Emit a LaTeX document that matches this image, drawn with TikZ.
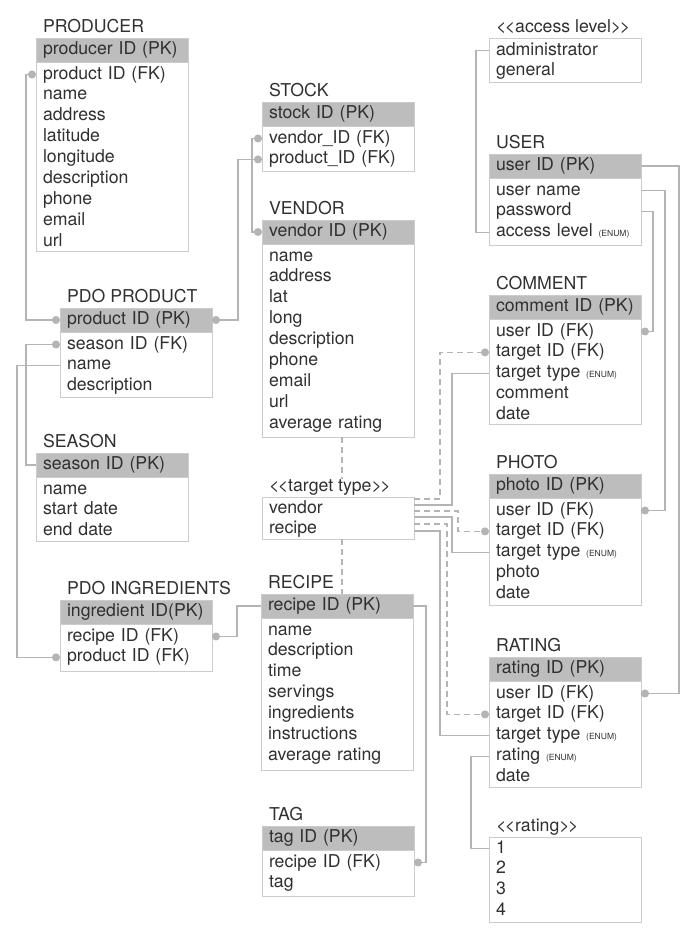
\documentclass[tikz,border=0pt]{standalone}
\usepackage{fontspec}
\newfontfamily\erfont{TeX Gyre Heros}
\usetikzlibrary{calc, arrows.meta}

\definecolor{headgray}{HTML}{BDBDBD}
\definecolor{boxgray}{HTML}{CCCCCC}
\definecolor{linegray}{HTML}{B4B4B4}
\definecolor{ink}{HTML}{303030}

\newcommand{\enumtag}{{\fontsize{8.5pt}{10pt}\selectfont(ENUM)}}
\newcommand{\stereo}[1]{<\kern-1.5pt<#1>\kern-1.5pt>}

\begin{document}
\begin{tikzpicture}[x=1pt, y=-1pt,
    every node/.style={font=\erfont\fontsize{17.7pt}{21pt}\selectfont, text=ink},
    tabname/.style={anchor=base west, inner sep=0pt, outer sep=0pt},
    keyrow/.style={anchor=north west, fill=headgray, draw=boxgray, text width=138pt,
        inner xsep=7pt, inner ysep=0pt, outer sep=0pt, minimum height=24pt,
        text height=12.5pt, text depth=3.5pt},
    tablebox/.style={anchor=north west, draw=boxgray, minimum width=152pt,
        inner sep=0pt, outer sep=0pt},
    field/.style={anchor=west, text width=138pt, inner xsep=7pt, inner ysep=0pt,
        outer sep=0pt, minimum height=20.9pt, text height=12.5pt, text depth=3.5pt},
    rel/.style={draw=linegray, line width=1.1pt},
    relopt/.style={rel, dash pattern=on 6pt off 4pt},
    fk/.tip={Circle[length=8pt]}
]
\useasboundingbox (0,0) rectangle (696,938);

% producer
\node[keyrow] (producer) at (36,38) {producer ID (PK)};
\node[tabname] (producerT) at ([xshift=7pt,yshift=6pt]producer.north west) {PRODUCER};
\node[tablebox, minimum height=189pt] (producerB) at (producer.south west) {};
\foreach \f [count=\i] in {product ID (FK), name, address, latitude, longitude, description, phone, email, url}
    \node[field] (producer-\i) at ($(producerB.north west)+(0,{20.9*\i-8.4})$) {\f};

% stock
\node[keyrow] (stock) at (262,102) {stock ID (PK)};
\node[tabname] (stockT) at ([xshift=7pt,yshift=6pt]stock.north west) {STOCK};
\node[tablebox, minimum height=45pt] (stockB) at (stock.south west) {};
\foreach \f [count=\i] in {vendor\_ID (FK), product\_ID (FK)}
    \node[field] (stock-\i) at ($(stockB.north west)+(0,{20.9*\i-8.4})$) {\f};

% vendor
\node[keyrow] (vendor) at (262,220) {vendor ID (PK)};
\node[tabname] (vendorT) at ([xshift=7pt,yshift=6pt]vendor.north west) {VENDOR};
\node[tablebox, minimum height=193pt] (vendorB) at (vendor.south west) {};
\foreach \f [count=\i] in {name, address, lat, long, description, phone, email, url, average rating}
    \node[field] (vendor-\i) at ($(vendorB.north west)+(0,{20.9*\i-8.4})$) {\f};

% pdo product
\node[keyrow] (product) at (60,308) {product ID (PK)};
\node[tabname] (productT) at ([xshift=7pt,yshift=6pt]product.north west) {PDO PRODUCT};
\node[tablebox, minimum height=65pt] (productB) at (product.south west) {};
\foreach \f [count=\i] in {season ID (FK), name, description}
    \node[field] (product-\i) at ($(productB.north west)+(0,{20.9*\i-8.4})$) {\f};

% season
\node[keyrow] (season) at (36,453) {season ID (PK)};
\node[tabname] (seasonT) at ([xshift=7pt,yshift=6pt]season.north west) {SEASON};
\node[tablebox, minimum height=64pt] (seasonB) at (season.south west) {};
\foreach \f [count=\i] in {name, start date, end date}
    \node[field] (season-\i) at ($(seasonB.north west)+(0,{20.9*\i-8.4})$) {\f};

% pdo ingredients
\node[keyrow] (ingredient) at (60,600) {ingredient ID(PK)};
\node[tabname] (ingredientT) at ([xshift=7pt,yshift=6pt]ingredient.north west) {PDO INGREDIENTS};
\node[tablebox, minimum height=47pt] (ingredientB) at (ingredient.south west) {};
\foreach \f [count=\i] in {recipe ID (FK), product ID (FK)}
    \node[field] (ingredient-\i) at ($(ingredientB.north west)+(0,{20.9*\i-8.4})$) {\f};

% recipe
\node[keyrow] (recipe) at (261,594) {recipe ID (PK)};
\node[tabname] (recipeT) at ([xshift=7pt,yshift=6pt]recipe.north west) {RECIPE};
\node[tablebox, minimum height=152pt] (recipeB) at (recipe.south west) {};
\foreach \f [count=\i] in {name, description, time, servings, ingredients, instructions, average rating}
    \node[field] (recipe-\i) at ($(recipeB.north west)+(0,{20.9*\i-8.4})$) {\f};

% tag
\node[keyrow] (tag) at (262,826) {tag ID (PK)};
\node[tabname] (tagT) at ([xshift=7pt,yshift=6pt]tag.north west) {TAG};
\node[tablebox, minimum height=46pt] (tagB) at (tag.south west) {};
\foreach \f [count=\i] in {recipe ID (FK), tag}
    \node[field] (tag-\i) at ($(tagB.north west)+(0,{20.9*\i-8.4})$) {\f};

% target type
\node[tablebox, minimum height=42pt] (targetB) at (262,497) {};
\node[tabname] (targetT) at ([xshift=7pt,yshift=6pt]targetB.north west) {\stereo{target type}};
\foreach \f [count=\i] in {vendor, recipe}
    \node[field] (target-\i) at ($(targetB.north west)+(0,{20.9*\i-9.4})$) {\f};

% access level
\node[tablebox, minimum height=44pt] (accessB) at (489,38) {};
\node[tabname] (accessT) at ([xshift=7pt,yshift=6pt]accessB.north west) {\stereo{access level}};
\foreach \f [count=\i] in {administrator, general}
    \node[field] (access-\i) at ($(accessB.north west)+(0,{20.9*\i-8.4})$) {\f};

% user
\node[keyrow] (user) at (489,154) {user ID (PK)};
\node[tabname] (userT) at ([xshift=7pt,yshift=6pt]user.north west) {USER};
\node[tablebox, minimum height=67pt] (userB) at (user.south west) {};
\foreach \f [count=\i] in {user name, password, access level \enumtag}
    \node[field] (user-\i) at ($(userB.north west)+(0,{20.9*\i-8.4})$) {\f};

% comment
\node[keyrow] (comment) at (489,295) {comment ID (PK)};
\node[tabname] (commentT) at ([xshift=7pt,yshift=6pt]comment.north west) {COMMENT};
\node[tablebox, minimum height=105pt] (commentB) at (comment.south west) {};
\foreach \f [count=\i] in {user ID (FK), target ID (FK), target type \enumtag, comment, date}
    \node[field] (comment-\i) at ($(commentB.north west)+(0,{20.9*\i-8.4})$) {\f};

% photo
\node[keyrow] (photo) at (489,474) {photo ID (PK)};
\node[tabname] (photoT) at ([xshift=7pt,yshift=6pt]photo.north west) {PHOTO};
\node[tablebox, minimum height=107pt] (photoB) at (photo.south west) {};
\foreach \f [count=\i] in {user ID (FK), target ID (FK), target type \enumtag, photo, date}
    \node[field] (photo-\i) at ($(photoB.north west)+(0,{20.9*\i-8.4})$) {\f};

% rating
\node[keyrow] (rating) at (489,657) {rating ID (PK)};
\node[tabname] (ratingT) at ([xshift=7pt,yshift=6pt]rating.north west) {RATING};
\node[tablebox, minimum height=106pt] (ratingB) at (rating.south west) {};
\foreach \f [count=\i] in {user ID (FK), target ID (FK), target type \enumtag, rating \enumtag, date}
    \node[field] (rating-\i) at ($(ratingB.north west)+(0,{20.9*\i-8.4})$) {\f};

% rating values
\node[tablebox, minimum height=85pt] (scoreB) at (489,837) {};
\node[tabname] (scoreT) at ([xshift=7pt,yshift=6pt]scoreB.north west) {\stereo{rating}};
\foreach \f [count=\i] in {1, 2, 3, 4}
    \node[field] (score-\i) at ($(scoreB.north west)+(0,{20.9*\i-9.4})$) {\f};

% relations, left side
\draw[rel, fk-fk] (producer-1.west) -- ++(-10,0) |- (product.west);
\draw[rel, fk-fk] (stock-1.west) -- ++(-10,0) |- (vendor.west);
\draw[rel, fk-fk] (stock-2.west) -- ++(-24,0) |- (product.east);
\draw[rel, fk-] (product-1.west) -- ++(-34,0) |- (season.west);
\draw[rel, -fk] (product-2.west) -- ++(-43,0) |- (ingredient-2.west);
\draw[rel, fk-] (ingredient-1.east) -- ++(25,0) |- (recipe.west);
\draw[rel, -fk] (recipe.east) -- ++(13,0) |- (tag-1.east);

% relations, users
\draw[rel] (access-1.west) -- ++(-13,0) |- (user-3.west);
\draw[rel, -fk] (user.east) -- ++(38,0) |- (rating-1.east);
\draw[rel, -fk] (user-1.east) -- ++(24,0) |- (photo-1.east);
\draw[rel, -fk] (user-2.east) -- ++(12,0) |- (comment-1.east);
\draw[rel] (rating-4.west) -- ++(-18,0) |- (score-1.west);

% relations, target type
\draw[relopt] ([xshift=4pt]vendorB.south) -- ([xshift=4pt]vendorB.south |- targetT.north);
\draw[relopt] ([xshift=4pt]targetB.south) -- ([xshift=4pt]targetB.south |- recipe.north);
\draw[relopt, -fk] ([yshift=-2pt]targetB.north east) -- ++(26,0) |- (comment-2.west);
\draw[rel] ([yshift=-8pt]targetB.north east) -- ++(38,0) |- (comment-3.west);
\draw[relopt, -fk] ([yshift=-14pt]targetB.north east) -- ++(44,0) |- (photo-2.west);
\draw[rel] ([yshift=-20pt]targetB.north east) -- ++(38,0) |- (photo-3.west);
\draw[relopt, -fk] ([yshift=-27pt]targetB.north east) -- ++(33,0) |- (rating-2.west);
\draw[rel] ([yshift=-34pt]targetB.north east) -- ++(26,0) |- (rating-3.west);
\end{tikzpicture}
\end{document}
